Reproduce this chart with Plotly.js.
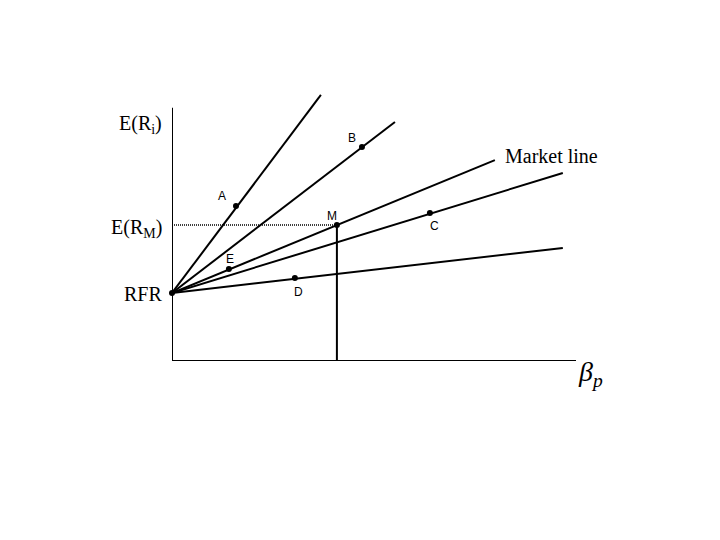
<!DOCTYPE html>
<html>
<head>
<meta charset="utf-8">
<script src="https://cdn.plot.ly/plotly-3.0.1.min.js"></script>
<style>html,body{margin:0;padding:0;background:#fff;}#chart{width:720px;height:540px;}</style>
</head>
<body>
<div id="chart"></div>
<script>
// Risk-free rate and market portfolio
const rfr = 4;
const marketBeta = 1.0;
const marketReturn = 8.0;

// Lines from RFR: end points (beta, expected return)
const lineNames = ['A line', 'B line', 'Market line', 'C line', 'D line'];
const lineEndBeta = [0.903, 1.352, 1.958, 2.37, 2.37];
const lineEndReturn = [15.65, 14.06, 11.82, 11.06, 6.65];

// Portfolios
const pointLabels = ['A', 'B', 'M', 'C', 'D', 'E'];
const pointBeta = [0.388, 1.152, 1.0, 1.564, 0.745, 0.345];
const pointReturn = [9.12, 12.59, 8.0, 8.71, 4.88, 5.41];

// Axis extents
const betaMax = 2.45;
const returnMax = 14.9;

const traces = [];
lineNames.forEach((n, i) => {
  traces.push({
    x: [0, lineEndBeta[i]], y: [rfr, lineEndReturn[i]],
    mode: 'lines', type: 'scatter', name: n,
    line: {color: '#000', width: 2}, hoverinfo: 'skip'
  });
});
// vertical line from M to x axis
traces.push({x: [marketBeta, marketBeta], y: [0, marketReturn], mode: 'lines',
  line: {color: '#000', width: 2}, hoverinfo: 'skip'});
// dotted line from y axis to M
traces.push({x: [0, marketBeta], y: [marketReturn, marketReturn], mode: 'lines',
  line: {color: '#000', width: 1.3, dash: '1px,1px'}, hoverinfo: 'skip'});
// axes
traces.push({x: [0, 0, betaMax], y: [returnMax, 0, 0], mode: 'lines',
  line: {color: '#000', width: 2}, hoverinfo: 'skip'});
// points
traces.push({x: pointBeta.concat([0]), y: pointReturn.concat([rfr]), mode: 'markers',
  marker: {color: '#000', size: 6}, cliponaxis: false, hoverinfo: 'skip'});

const labelShift = {A: [-14, 10], B: [-10, 9], M: [-5, 9], C: [5, -13], D: [4, -14], E: [1, 10]};
const annotations = pointLabels.map((t, i) => ({
  x: pointBeta[i], y: pointReturn[i], xref: 'x', yref: 'y', text: t, showarrow: false,
  xshift: labelShift[t][0], yshift: labelShift[t][1],
  font: {family: 'Liberation Sans, Arial, sans-serif', size: 12, color: '#000'}
}));
const serif = {family: 'Liberation Serif, Times New Roman, serif', size: 20, color: '#000'};
annotations.push(
  {x: 0, y: 13.94, xref: 'x', yref: 'y', text: 'E(R<sub>i</sub>)', showarrow: false, xanchor: 'right', xshift: -8, font: serif},
  {x: 0, y: marketReturn, xref: 'x', yref: 'y', text: 'E(R<sub>M</sub>)', showarrow: false, xanchor: 'right', xshift: -8, yshift: -3, font: serif},
  {x: 0, y: rfr, xref: 'x', yref: 'y', text: 'RFR', showarrow: false, xanchor: 'right', xshift: -8, yshift: -1, font: serif},
  {x: lineEndBeta[2], y: lineEndReturn[2], xref: 'x', yref: 'y', text: 'Market line', showarrow: false, xanchor: 'left', xshift: 8, yshift: 4, font: serif},
  {x: betaMax, y: 0, xref: 'x', yref: 'y', text: '<i>β<sub>p</sub></i>', showarrow: false, xanchor: 'left', xshift: 0, yshift: -12,
    font: {family: 'Liberation Serif, Times New Roman, serif', size: 28, color: '#000'}}
);

const layout = {
  width: 720, height: 540,
  margin: {l: 172, r: 144, t: 80, b: 179},
  paper_bgcolor: '#fff', plot_bgcolor: '#fff',
  showlegend: false,
  xaxis: {range: [0, betaMax], showgrid: false, zeroline: false, showticklabels: false, showline: false, ticks: '', fixedrange: true},
  yaxis: {range: [0, 281 / 17], showgrid: false, zeroline: false, showticklabels: false, showline: false, ticks: '', fixedrange: true},
  annotations: annotations
};
Plotly.newPlot('chart', traces, layout, {displayModeBar: false, staticPlot: true});
</script>
</body>
</html>
